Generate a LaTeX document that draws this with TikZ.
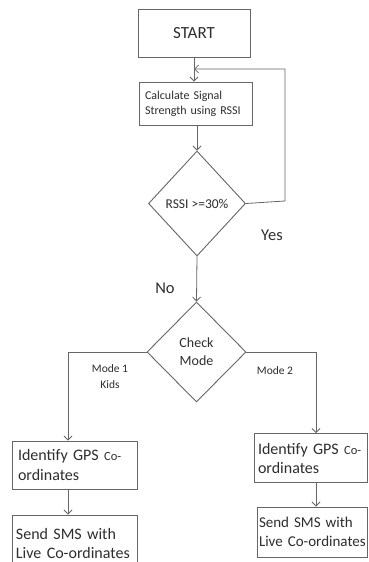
\documentclass[tikz,border=0pt]{standalone}
\usepackage{fontspec}
\setmainfont{Carlito}
\usetikzlibrary{shapes.geometric,arrows.meta}
\definecolor{ln}{HTML}{666666}
\definecolor{tx}{HTML}{2E2E2E}
\tikzset{
  box/.style={draw=ln,line width=0.9pt,rectangle,inner sep=0pt,text=tx},
  dec/.style={draw=ln,line width=0.9pt,diamond,inner sep=0pt,text=tx,align=center},
  arr/.style={draw=ln,line width=0.8pt,-{Straight Barb[length=4pt,width=8pt]}},
  lbl/.style={text=tx,inner sep=0pt,align=center}
}
\begin{document}
\begin{tikzpicture}[x=1pt,y=-1pt]
\useasboundingbox[fill=white] (0,0) rectangle (368,562);
\node[box,minimum width=112pt,minimum height=48pt,font=\fontsize{17}{20}\selectfont] (start) at (194,33) {START};
\node[box,minimum width=113pt,minimum height=43pt,text width=101pt,align=left,font=\fontsize{12}{15}\selectfont] (calc) at (195.5,103.5) {\mbox{Calculate Signal}\\\mbox{Strength using RSSI}};
\node[dec,minimum width=97pt,minimum height=105pt,font=\fontsize{13.5}{16}\selectfont] (d1) at (197,203.5) {RSSI >=30\%};
\node[dec,minimum width=99pt,minimum height=100pt,font=\fontsize{14}{18}\selectfont] (d2) at (196.5,352) {Check\\Mode};
\node[box,minimum width=125pt,minimum height=48pt,text width=113pt,align=left,font=\fontsize{16}{20}\selectfont] (id1) at (74.5,465) {\mbox{Identify GPS {\fontsize{12.5}{20}\selectfont Co-}}\\\mbox{ordinates}};
\node[box,minimum width=125pt,minimum height=56pt,text width=117pt,align=left,font=\fontsize{16}{19}\selectfont] (sms1) at (74.5,543) {\mbox{Send SMS with}\\\mbox{Live Co-ordinates}};
\node[box,minimum width=113pt,minimum height=49pt,text width=105pt,align=left,font=\fontsize{16}{19}\selectfont] (id2) at (310.5,458) {\mbox{Identify GPS {\fontsize{12.5}{19}\selectfont Co-}}\\\mbox{ordinates}};
\node[box,minimum width=110pt,minimum height=50pt,text width=106pt,align=left,font=\fontsize{15}{18.5}\selectfont] (sms2) at (312,532) {\mbox{Send SMS with}\\\mbox{Live Co-ordinates}};
% labels
\node[lbl,font=\fontsize{16.5}{20}\selectfont] (yes) at (272,235) {Yes};
\node[lbl,font=\fontsize{16.5}{20}\selectfont] (no) at (165,288) {No};
\node[lbl,font=\fontsize{11.5}{16}\selectfont] (m1) at (110,377) {Mode 1\\Kids};
\node[lbl,font=\fontsize{11.5}{16}\selectfont] (m2) at (275,371) {Mode 2};
% coordinates
\coordinate (jn) at (194,69);
\coordinate (lr) at (285,201);
\coordinate (cl) at (68,352);
\coordinate (cr) at (316,352);
% connectors
\draw[arr] (start.south -| jn) -- (calc.north -| jn);
\draw[arr] (d1.east) -- (lr) -- (lr |- jn) -- (jn);
\draw[arr] (calc.south -| d1.north) -- (d1.north);
\draw[arr] (d1.south) -- (d2.north);
\draw[arr] (d2.west) -- (cl) -- (cl |- id1.north);
\draw[arr] (d2.east) -- (cr) -- (cr |- id2.north);
\draw[arr] (cl |- id1.south) -- (cl |- sms1.north);
\draw[arr] (cr |- id2.south) -- (cr |- sms2.north);
\end{tikzpicture}
\end{document}
